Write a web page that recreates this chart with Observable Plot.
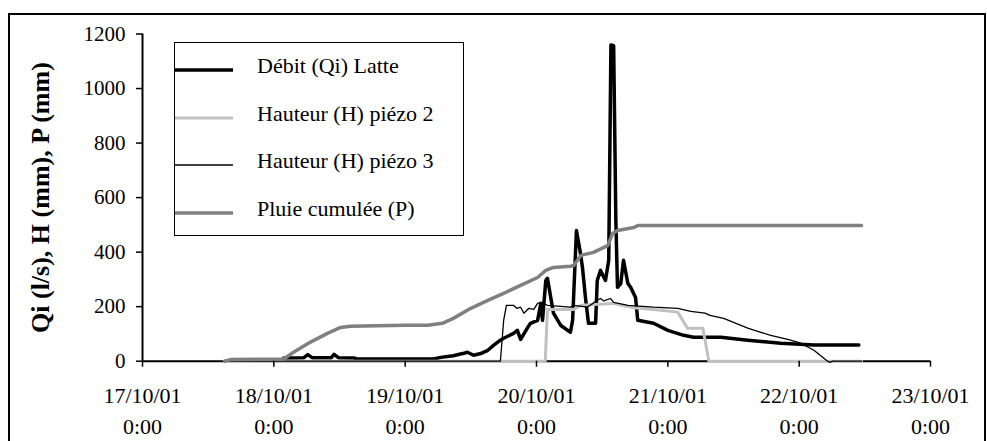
<!DOCTYPE html>
<html><head><meta charset="utf-8">
<script src="https://cdn.jsdelivr.net/npm/d3@7"></script>
<script src="https://cdn.jsdelivr.net/npm/@observablehq/plot@0.6"></script>
<style>
body{margin:0;background:#fff;font-family:'Liberation Serif','Times New Roman',serif;}
#wrap{position:relative;width:987px;height:441px;overflow:hidden;}
#wrap svg{position:absolute;left:0;top:0;}
#frame{position:absolute;left:8px;top:13px;width:978px;height:460px;border:2px solid #000;box-sizing:border-box;pointer-events:none;}
#legend{position:absolute;left:174px;top:42px;width:290px;height:194px;border:1px solid #000;box-sizing:border-box;background:#fff;}
.item{position:absolute;left:0;width:100%;height:0;}
.item svg{position:absolute;left:18px;top:-4px;}
.item span{position:absolute;left:82px;top:0;transform:translateY(-52%);font-size:22px;white-space:nowrap;color:#000;line-height:1;}
</style></head>
<body>
<div id="wrap"><div id="frame"></div></div>
<script>
// hours since 17/10/01 0:00, value
const debit = [[25.8,12],[29.5,13],[30.2,24],[31.0,13],[34.5,13],[35.0,25],[35.8,13],[38.6,12],[39.2,8],[53.2,8],[54.5,14],[56.8,20],[58.5,28],[59.4,33],[60.5,22],[61.8,28],[63.1,40],[64.2,59],[65.4,77],[66.0,84],[67.8,102],[68.5,113],[69.1,80],[70.4,124],[70.9,139],[72.2,150],[72.8,212],[73.1,150],[73.7,296],[74.0,304],[74.6,234],[75.1,176],[76.4,132],[78.2,106],[78.6,150],[79.3,479],[80.0,400],[80.4,344],[81.0,223],[81.5,139],[82.8,139],[83.1,296],[83.7,333],[84.6,296],[85.2,370],[85.6,1160],[86.1,1156],[86.5,516],[86.8,271],[87.4,285],[87.9,370],[88.7,285],[89.2,271],[90.1,234],[90.5,150],[93.4,139],[96.0,113],[98.9,95],[100.7,88],[105.7,88],[110.6,77],[116.6,66],[122.7,59],[130.9,59]];
const piezo2 = [[15.0,0],[73.6,0],[74.0,190],[78.8,190],[80.1,205],[85.9,212],[89.8,196],[93.4,190],[97.8,180],[99.6,121],[102.4,121],[103.5,0],[131.4,0]];
const piezo3 = [[15.0,0],[65.4,0],[66.0,150],[66.5,205],[67.8,205],[68.4,194],[69.1,198],[69.7,176],[70.6,194],[71.5,190],[72.2,212],[73.0,216],[74.0,205],[78.2,198],[78.8,205],[81.3,198],[83.2,225],[83.7,230],[84.3,221],[85.5,230],[86.1,216],[88.7,205],[93.4,198],[97.8,194],[100.2,183],[102.8,176],[103.7,168],[106.2,157],[110.6,121],[113.0,106],[114.8,95],[117.9,80],[120.3,66],[122.7,40],[125.2,0],[125.6,-4],[126.1,0],[131.4,0]];
const pluie = [[15.0,0],[16.1,6],[25.8,8],[27.6,33],[30.7,70],[33.8,102],[36.2,124],[38.0,128],[48.1,132],[52.1,132],[54.8,139],[56.8,157],[60.0,194],[63.1,223],[66.0,249],[69.1,278],[72.2,307],[73.7,333],[75.1,344],[78.2,348],[78.8,351],[80.1,388],[82.4,399],[85.0,424],[85.9,468],[86.8,479],[89.8,490],[90.5,498],[131.4,498]];

const seriesNames = ["Débit (Qi) Latte","Hauteur (H) piézo 2","Hauteur (H) piézo 3","Pluie cumulée (P)"];
const seriesColors = ["#000000","#c0c0c0","#000000","#808080"];
const seriesWidths = [3.5,3,1.3,3.5];
const xTickDates = ["2001-10-17","2001-10-18","2001-10-19","2001-10-20","2001-10-21","2001-10-22","2001-10-23"];
const xTickLabels = ["17/10/01","18/10/01","19/10/01","20/10/01","21/10/01","22/10/01","23/10/01"];
const xTickTime = "0:00";
const yTicks = [0,200,400,600,800,1000,1200];
const yTitle = "Qi (l/s), H (mm), P (mm)";

const parseDay = d3.timeParse("%Y-%m-%d");
const base = parseDay(xTickDates[0]);
const toDate = h => new Date(base.getTime() + h * 3600e3);
const tickDates = xTickDates.map(parseDay);
const labelMap = new Map(tickDates.map((d, i) => [+d, xTickLabels[i]]));
const allSeries = [debit, piezo2, piezo3, pluie].map(arr => arr.map(([h, v]) => ({t: toDate(h), v})));

const font = "'Liberation Serif','Times New Roman',serif";
const chart = Plot.plot({
  width: 987, height: 441,
  marginLeft: 142, marginRight: 57, marginTop: 33.5, marginBottom: 80.3,
  style: {fontFamily: font, background: "transparent", color: "#000", overflow: "visible"},
  x: {type: "time", domain: [tickDates[0], tickDates[tickDates.length - 1]]},
  y: {domain: [0, 1200]},
  marks: [
    Plot.ruleY([0], {stroke: "#000", strokeWidth: 2}),
    Plot.ruleX([tickDates[0]], {stroke: "#000", strokeWidth: 2}),
    ...allSeries.map((s, i) => Plot.line(s, {x: "t", y: "v", stroke: seriesColors[i], strokeWidth: seriesWidths[i]})),
    Plot.axisY({ticks: yTicks, tickSize: 6, tickPadding: 11, fontSize: 21, tickFormat: d => String(d), label: null, stroke: "#000", strokeWidth: 1.5}),
    Plot.axisX({ticks: tickDates, tickSize: 6, tickPadding: 14, fontSize: 22, lineHeight: 1.4, tickFormat: d => labelMap.get(+d) + "\n" + xTickTime, label: null, stroke: "#000", strokeWidth: 1.5}),
    Plot.text([yTitle], {text: d => d, frameAnchor: "left", textAnchor: "middle", lineAnchor: "middle", dx: -102, rotate: -90, fontSize: 26, fontWeight: "bold", fill: "#000"})
  ]
});
const wrap = document.getElementById("wrap");
wrap.insertBefore(chart, wrap.firstChild);

// legend
const legend = document.createElement("div");
legend.id = "legend";
const rowCenters = [23, 71, 118, 166];
seriesNames.forEach((name, i) => {
  const item = document.createElement("div");
  item.className = "item";
  item.style.top = rowCenters[i] + "px";
  item.innerHTML = `<svg width="58" height="8"><line x1="0" x2="58" y1="4" y2="4" stroke="${seriesColors[i]}" stroke-width="${seriesWidths[i]}"/></svg><span>${name}</span>`;
  legend.appendChild(item);
});
wrap.appendChild(legend);
</script>
</body></html>
